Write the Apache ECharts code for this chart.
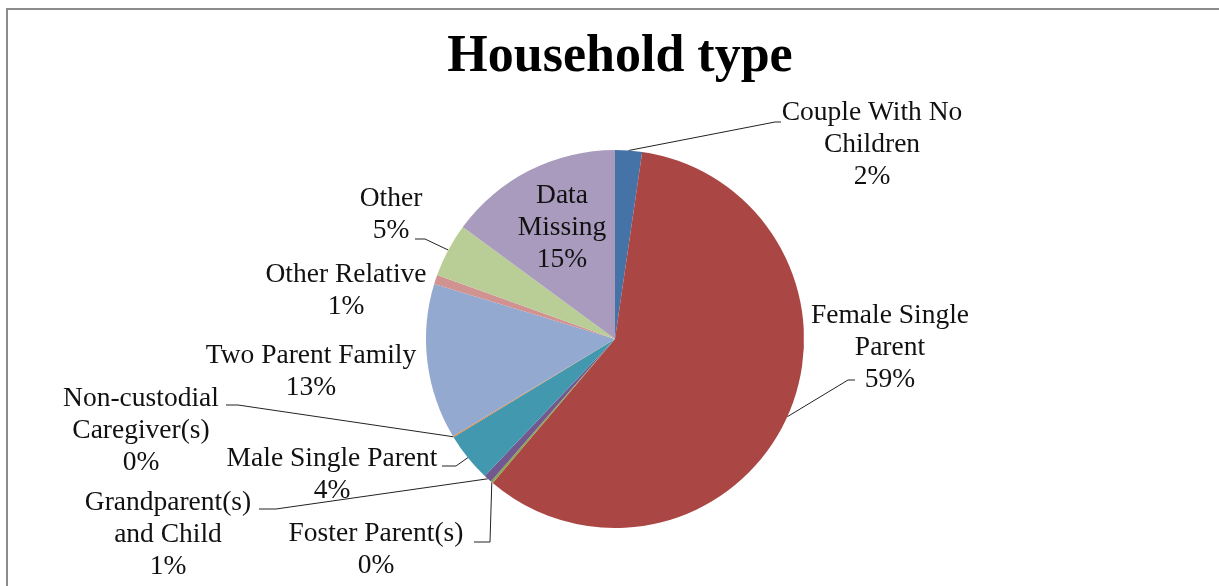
<!DOCTYPE html>
<html>
<head>
<meta charset="utf-8">
<title>Household type</title>
<script src="https://cdn.jsdelivr.net/npm/echarts@6/dist/echarts.min.js"></script>
<style>
  html, body { margin: 0; padding: 0; background: #fff; overflow: hidden; }
  #frame {
    position: absolute; left: 6px; top: 8px; width: 1400px; height: 800px;
    border: 2px solid #8c8c8c; box-sizing: border-box;
  }
  #chart { position: absolute; left: 0; top: 0; width: 1219px; height: 586px; }
</style>
</head>
<body>
<div id="frame"></div>
<div id="chart"></div>
<script>
// slice names, clockwise from 12 o'clock
var categories = [
  'Couple With No\nChildren',
  'Female Single\nParent',
  'Foster Parent(s)',
  'Grandparent(s)\nand Child',
  'Male Single Parent',
  'Non-custodial\nCaregiver(s)',
  'Two Parent Family',
  'Other Relative',
  'Other',
  'Data\nMissing'
]
// share of households, percent
var shares = [2.3, 58.9, 0.2, 0.7, 4.2, 0.1, 13.3, 0.8, 4.6, 14.9]
var colors = ['#4572A7', '#AA4643', '#89A54E', '#71588F', '#4198AF',
  '#DB843D', '#93A9CF', '#D19392', '#B9CD96', '#A99BBD']

// label box centres, plus the elbow and end of each leader (null = no leader)
var labelSpots = [
  { x: 872, y: 145, elbow: [775, 122], end: [781, 122] },
  { x: 890, y: 348, elbow: [848, 380], end: [855, 380] },
  { x: 376, y: 550, elbow: [490, 542], end: [474, 542] },
  { x: 168, y: 535, elbow: [276, 509], end: [259, 509] },
  { x: 332, y: 475, elbow: [456, 466], end: [442, 466] },
  { x: 141, y: 431, elbow: [238, 405], end: [226, 405] },
  { x: 311, y: 372, elbow: null },
  { x: 346, y: 291, elbow: null },
  { x: 391, y: 215, elbow: [425, 239], end: [415, 239] },
  { x: 562, y: 228, elbow: null }
]

var pieCenter = [615, 339]
var pieRadius = 189

var total = shares.reduce(function (a, b) { return a + b }, 0)

// point on the rim at the middle of slice i
function rimPoint(i) {
  var before = 0
  for (var k = 0; k < i; k++) before += shares[k]
  var ang = (before + shares[i] / 2) / total * 2 * Math.PI
  return [pieCenter[0] + pieRadius * Math.sin(ang), pieCenter[1] - pieRadius * Math.cos(ang)]
}

var chart = echarts.init(document.getElementById('chart'))

var fontFamily = '"Liberation Serif", "DejaVu Serif", serif'

chart.setOption({
  backgroundColor: 'transparent',
  animation: false,
  title: {
    text: 'Household type',
    left: 615,
    top: 27,
    textAlign: 'center',
    textStyle: {
      fontFamily: fontFamily,
      fontSize: 52,
      fontWeight: 'bold',
      color: '#000'
    }
  },
  series: [
    {
      type: 'pie',
      center: pieCenter,
      radius: pieRadius,
      startAngle: 90,
      clockwise: true,
      minAngle: 0,
      avoidLabelOverlap: false,
      percentPrecision: 0,
      itemStyle: { borderWidth: 0 },
      label: {
        show: true,
        position: 'outside',
        formatter: '{b}\n{d}%',
        fontFamily: fontFamily,
        fontSize: 27.5,
        lineHeight: 32,
        color: '#111',
        align: 'center'
      },
      labelLine: {
        show: true,
        length: 10,
        length2: 10,
        lineStyle: { color: '#222', width: 1 }
      },
      labelLayout: function (params) {
        var i = params.dataIndex
        var spot = labelSpots[i]
        var out = {
          x: spot.x,
          y: spot.y,
          align: 'center',
          verticalAlign: 'middle'
        }
        if (spot.elbow) {
          out.labelLinePoints = [rimPoint(i), spot.elbow, spot.end]
        }
        return out
      },
      data: categories.map(function (name, i) {
        var item = {
          name: name,
          value: shares[i],
          itemStyle: { color: colors[i] }
        }
        if (!labelSpots[i].elbow) {
          item.labelLine = { show: false }
        }
        return item
      })
    }
  ]
})
</script>
</body>
</html>
